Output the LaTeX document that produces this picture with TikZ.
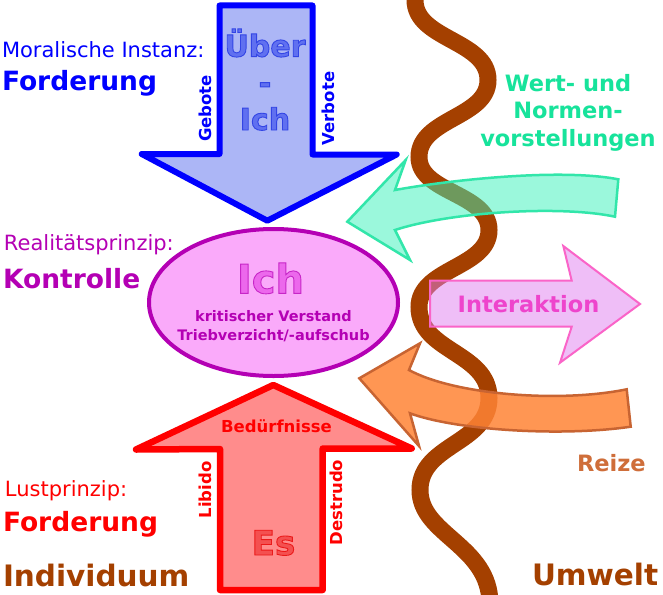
\documentclass[tikz,border=0pt]{standalone}
\usepackage{fontspec}
\setmainfont{DejaVu Sans}
\usetikzlibrary{shapes.geometric}
\definecolor{ublue}{HTML}{0000FF}
\definecolor{ubluefill}{HTML}{ACB6F6}
\definecolor{ubluetext}{HTML}{6070F0}
\definecolor{ichpurple}{HTML}{B400B4}
\definecolor{ichfill}{HTML}{FAAAFA}
\definecolor{ichtext}{HTML}{EC68EC}
\definecolor{esred}{HTML}{FF0000}
\definecolor{esfill}{HTML}{FF8C8C}
\definecolor{estext}{HTML}{F45050}
\definecolor{brownc}{HTML}{A44000}
\definecolor{greenfill}{HTML}{39F3BB}
\definecolor{greenline}{HTML}{32E6AA}
\definecolor{greentext}{HTML}{17E39B}
\definecolor{pinkfill}{HTML}{E07EF0}
\definecolor{pinkline}{HTML}{FA64C8}
\definecolor{pinktext}{HTML}{EE44CC}
\definecolor{orangefill}{HTML}{FF8436}
\definecolor{orangeline}{HTML}{C86432}
\definecolor{reizetext}{HTML}{CF6E3A}
\newcommand\myfs[1]{\fontsize{#1}{#1}\selectfont}
% outlined text: #1 = stroke colour as "r g b"
\newcommand\outlined[2]{\special{pdf:literal #1 RG 0.9 w 2 Tr}#2\special{pdf:literal 0 Tr}}
\begin{document}
\begin{tikzpicture}[x=1pt,y=-1pt,
  txt/.style={inner sep=0pt, outer sep=0pt},
  lw/.style={txt, anchor=base west},
  cb/.style={txt, anchor=base},
  rot/.style={txt, rotate=90, anchor=center},
  wave/.style={draw=brownc, line width=17pt},
  bigarrow/.style={line width=6pt, line join=round},
  softarrow/.style={line width=2.5pt, line join=miter}
]
\useasboundingbox (0,0) rectangle (663,594);
\fill[white] (0,0) rectangle (663,594);

% wavy boundary
\draw[wave] (415,-10) -- (415,0) .. controls (415,40) and (488,40) .. (488,80)
  .. controls (488,118) and (419,118) .. (419,157)
  .. controls (419,193) and (489,193) .. (489,230)
  .. controls (489,268) and (419,268) .. (419,307)
  .. controls (419,352) and (489,352) .. (489,398)
  .. controls (489,444) and (420,444) .. (420,490)
  .. controls (420,535) and (490,545) .. (490,604);

% Ueber-Ich arrow
\draw[bigarrow, draw=ublue, fill=ubluefill] (219.5,5.5) -- (312.5,5.5) -- (312.5,154.5)
  -- (396.7,154.5) -- (267.3,220.7) -- (141.7,154) -- (219.5,154) -- cycle;

% Es arrow
\draw[bigarrow, line width=6.5pt, draw=esred, fill=esfill] (220,590) -- (220,449)
  -- (136,449.5) -- (273.3,385) -- (411.7,448.5) -- (322.7,448.5) -- (322.7,590) -- cycle;

% Ich ellipse
\node[ellipse, draw=ichpurple, fill=ichfill, line width=4pt, minimum width=249pt,
  minimum height=147pt, inner sep=0pt] (ichell) at (273.5,302.5) {};

% green arrow (Wert- und Normenvorstellungen)
\draw[softarrow, draw=greenline, fill=greenfill, fill opacity=0.5]
  (347.3,221.7) -- (405.7,160) -- (395,190)
  .. controls (450,180) and (560,168) .. (618.3,179.3) -- (615,216.7)
  .. controls (560,205) and (450,212) .. (395,230) -- (410,260) -- cycle;

% pink arrow (Interaktion)
\draw[softarrow, line width=2pt, draw=pinkline, fill=pinkfill, fill opacity=0.5]
  (430,280.7) -- (571.7,280.7) -- (563.3,246) -- (640,304) -- (560,362.7)
  -- (571.7,326.7) -- (430,326.7) -- cycle;

% orange arrow (Reize)
\draw[softarrow, draw=orangeline, fill=orangefill, fill opacity=0.85]
  (359.3,378.3) -- (420,343.3) -- (409,370)
  .. controls (455,395) and (560,403) .. (626.7,389.3) -- (630.7,426.7)
  .. controls (560,437) and (455,430) .. (410,413.3) -- (419,446) -- cycle;

% left labels
\node[lw, text=ublue] (moral) at (2,57.3) {\myfs{21}Moralische Instanz:};
\node[lw, text=ublue] (ford1) at (2,90) {\myfs{26.5}\bfseries Forderung};
\node[lw, text=ichpurple] (real) at (4,250) {\myfs{21}Realitätsprinzip:};
\node[lw, text=ichpurple] (kontr) at (3,288) {\myfs{26.5}\bfseries Kontrolle};
\node[lw, text=esred] (lust) at (5,496) {\myfs{21}Lustprinzip:};
\node[lw, text=esred] (ford2) at (3,531.7) {\myfs{26.5}\bfseries Forderung};
\node[lw, text=brownc] (indiv) at (3,586.7) {\myfs{29.5}\bfseries Individuum};

% Ueber-Ich labels
\node[cb, text=ubluetext] (ueb1) at (265,56.7) {\myfs{30}\bfseries\outlined{0.2 0.27 0.9}{Über}};
\node[cb, text=ubluetext] (ueb2) at (265,93.4) {\myfs{30}\bfseries\outlined{0.2 0.27 0.9}{-}};
\node[cb, text=ubluetext] (ueb3) at (265,130) {\myfs{30}\bfseries\outlined{0.2 0.27 0.9}{Ich}};
\node[rot, text=ublue] (gebote) at (205,108.5) {\myfs{16.5}\bfseries Gebote};
\node[rot, text=ublue] (verbote) at (328.5,108.5) {\myfs{16.5}\bfseries Verbote};

% Ich labels
\node[cb, text=ichtext] (ichlbl) at (270.5,293.3) {\myfs{40}\bfseries\outlined{0.78 0.15 0.78}{Ich}};
\node[cb, text=ichpurple] (krit) at (273.5,321.7) {\myfs{14.5}\bfseries kritischer Verstand};
\node[cb, text=ichpurple] (trieb) at (273.5,340) {\myfs{14.5}\bfseries Triebverzicht/-aufschub};

% Es labels
\node[cb, text=esred] (bed) at (276.5,432.7) {\myfs{16.5}\bfseries Bedürfnisse};
\node[rot, text=esred] (libido) at (205,490) {\myfs{16.5}\bfseries Libido};
\node[rot, text=esred] (destr) at (336.5,502.5) {\myfs{16.5}\bfseries Destrudo};
\node[cb, text=estext] (es) at (273.5,555) {\myfs{34}\bfseries\outlined{0.92 0.1 0.1}{Es}};

% right labels
\node[cb, text=greentext] (wert1) at (568,91) {\myfs{22.5}\bfseries Wert- und};
\node[cb, text=greentext] (wert2) at (568,118.5) {\myfs{22.5}\bfseries Normen-};
\node[cb, text=greentext] (wert3) at (568,146) {\myfs{22.5}\bfseries vorstellungen};
\node[cb, text=pinktext] (inter) at (528.5,312.7) {\myfs{22.5}\bfseries Interaktion};
\node[lw, text=reizetext] (reize) at (577,471.7) {\myfs{22.5}\bfseries Reize};
\node[lw, text=brownc] (umwelt) at (532,585) {\myfs{29.5}\bfseries Umwelt};
\end{tikzpicture}
\end{document}
